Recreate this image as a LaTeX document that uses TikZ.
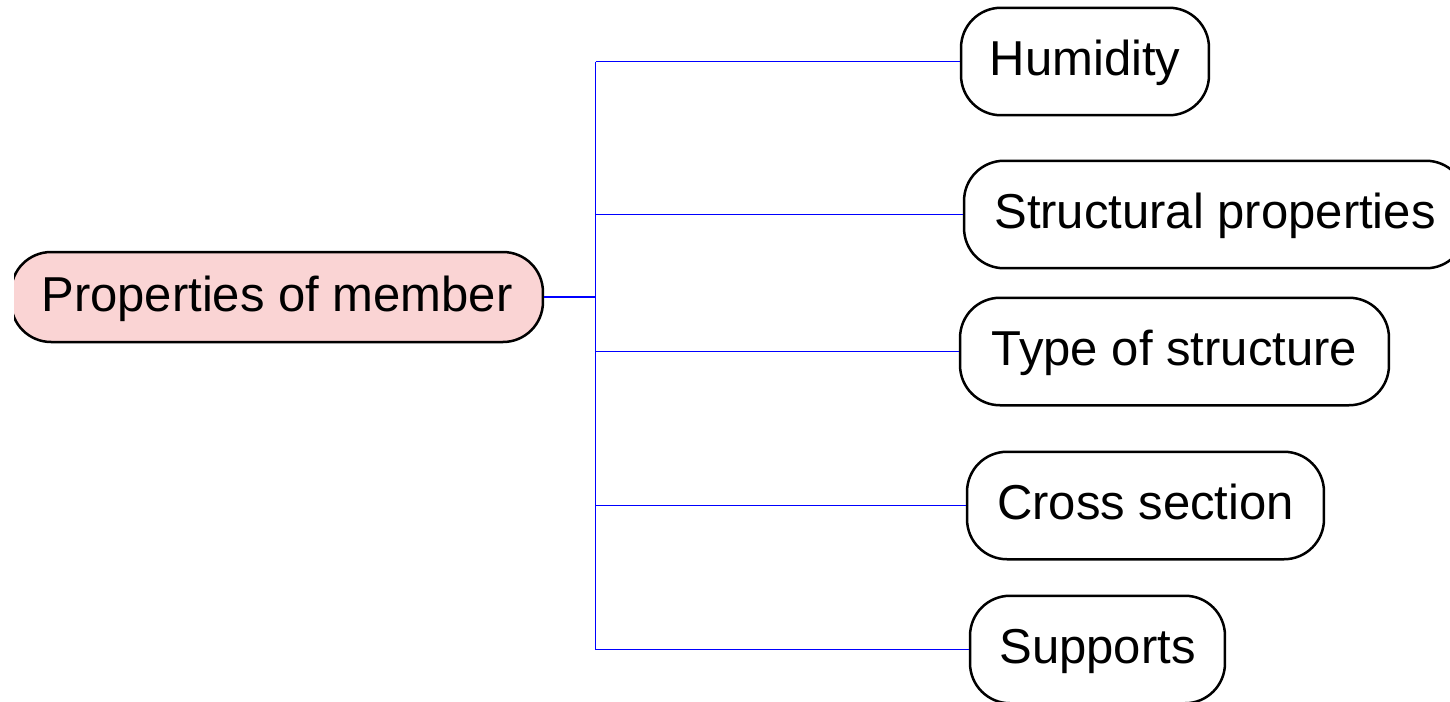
\documentclass[tikz,border=0pt]{standalone}
\usepackage{fontspec}
\setmainfont{Liberation Sans}
\usetikzlibrary{calc}

\definecolor{rootpink}{RGB}{250,212,212}

\begin{document}
\begin{tikzpicture}[x=0.02cm,y=-0.02cm]
    \tikzset{line/.style={draw,line width=0.05cm}}
    \tikzset{link/.style={draw=blue,line width=0.02cm}}
    \tikzset{box/.style={line,rounded corners=0.8cm,inner sep=0pt,minimum height=2.15cm,
        font=\fontsize{27.9}{33}\selectfont,text height=20.4pt,text depth=4.2pt}}

    \useasboundingbox (0,0) rectangle (1450,701);
    \clip (14,0) rectangle (1450,701);

    % centre node
    \node[box,fill=rootpink,minimum width=10.64cm,minimum height=1.8cm] (root) at (277,297) {Properties of member};

    % leaves on the right
    \node[box,minimum width=4.96cm] (hum) at (1085,61.5) {Humidity};
    \node[box,minimum width=10.04cm] (struct) at (1215,214.5) {Structural properties};
    \node[box,minimum width=8.58cm] (type) at (1174.5,351.5) {Type of structure};
    \node[box,minimum width=7.14cm] (cross) at (1145.5,505.5) {Cross section};
    \node[box,minimum width=5.1cm] (supp) at (1097.5,649.5) {Supports};

    % trunk and branches
    \coordinate (hub) at (595.5,297);
    \draw[link,line width=0.04cm] (root.east) -- (hub);
    \draw[link] (hub |- hum.west) -- (hub |- supp.west);
    \foreach \leaf in {hum,struct,type,cross,supp}
        \draw[link] (hub |- \leaf.west) -- (\leaf.west);

\end{tikzpicture}
\end{document}
